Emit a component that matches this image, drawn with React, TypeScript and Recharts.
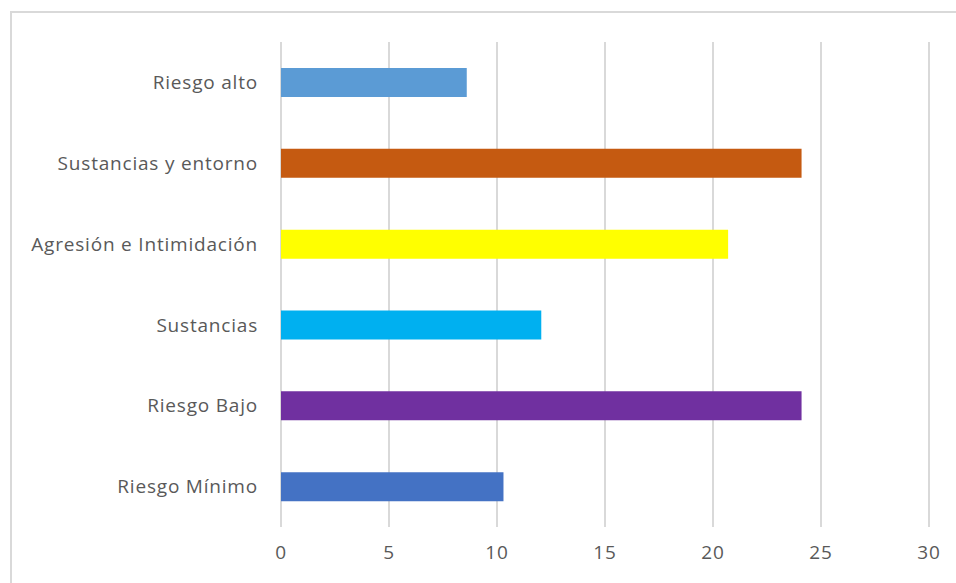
import React from 'react'
import { BarChart, Bar, XAxis, YAxis, CartesianGrid, Cell } from 'recharts'

// top to bottom, as in the picture
const categories = [
  'Riesgo alto',
  'Sustancias y entorno',
  'Agresión e Intimidación',
  'Sustancias',
  'Riesgo Bajo',
  'Riesgo Mínimo',
]
const values = [8.6, 24.1, 20.7, 12.05, 24.1, 10.3]
const colors = ['#5B9BD5', '#C55A11', '#FFFF00', '#00B0F0', '#7030A0', '#4472C4']
const xTicks = [0, 5, 10, 15, 20, 25, 30]

const data = categories.map((name, i) => ({ name, value: values[i] }))

const tickStyle = { fill: '#595959', fontSize: 19, fontFamily: '"Open Sans", sans-serif', letterSpacing: 0.8 }

export default function App() {
  return (
    <div style={{ position: 'absolute', left: 0, top: 0, width: 956, height: 583, overflow: 'hidden', background: '#fff' }}>
      <div
        style={{
          position: 'absolute',
          left: 10,
          top: 11,
          width: 980,
          height: 600,
          border: '2px solid #d9d9d9',
        }}
      />
      <div style={{ position: 'absolute', left: 0, top: 0 }}>
        <BarChart
          width={956}
          height={583}
          data={data}
          layout="vertical"
          margin={{ top: 42, right: 27, bottom: 0, left: 0 }}
        >
          <CartesianGrid horizontal={false} stroke="#d9d9d9" strokeWidth={2} />
          <XAxis
            type="number"
            domain={[0, 30]}
            ticks={xTicks}
            axisLine={false}
            tickLine={false}
            tickSize={0}
            tickMargin={19}
            height={56}
            tick={tickStyle}
          />
          <YAxis
            type="category"
            dataKey="name"
            width={281}
            axisLine={false}
            tickLine={false}
            tickSize={0}
            tickMargin={23}
            tick={tickStyle}
          />
          <Bar dataKey="value" barSize={29} isAnimationActive={false}>
            {data.map((d, i) => (
              <Cell key={d.name} fill={colors[i]} />
            ))}
          </Bar>
        </BarChart>
      </div>
    </div>
  )
}
